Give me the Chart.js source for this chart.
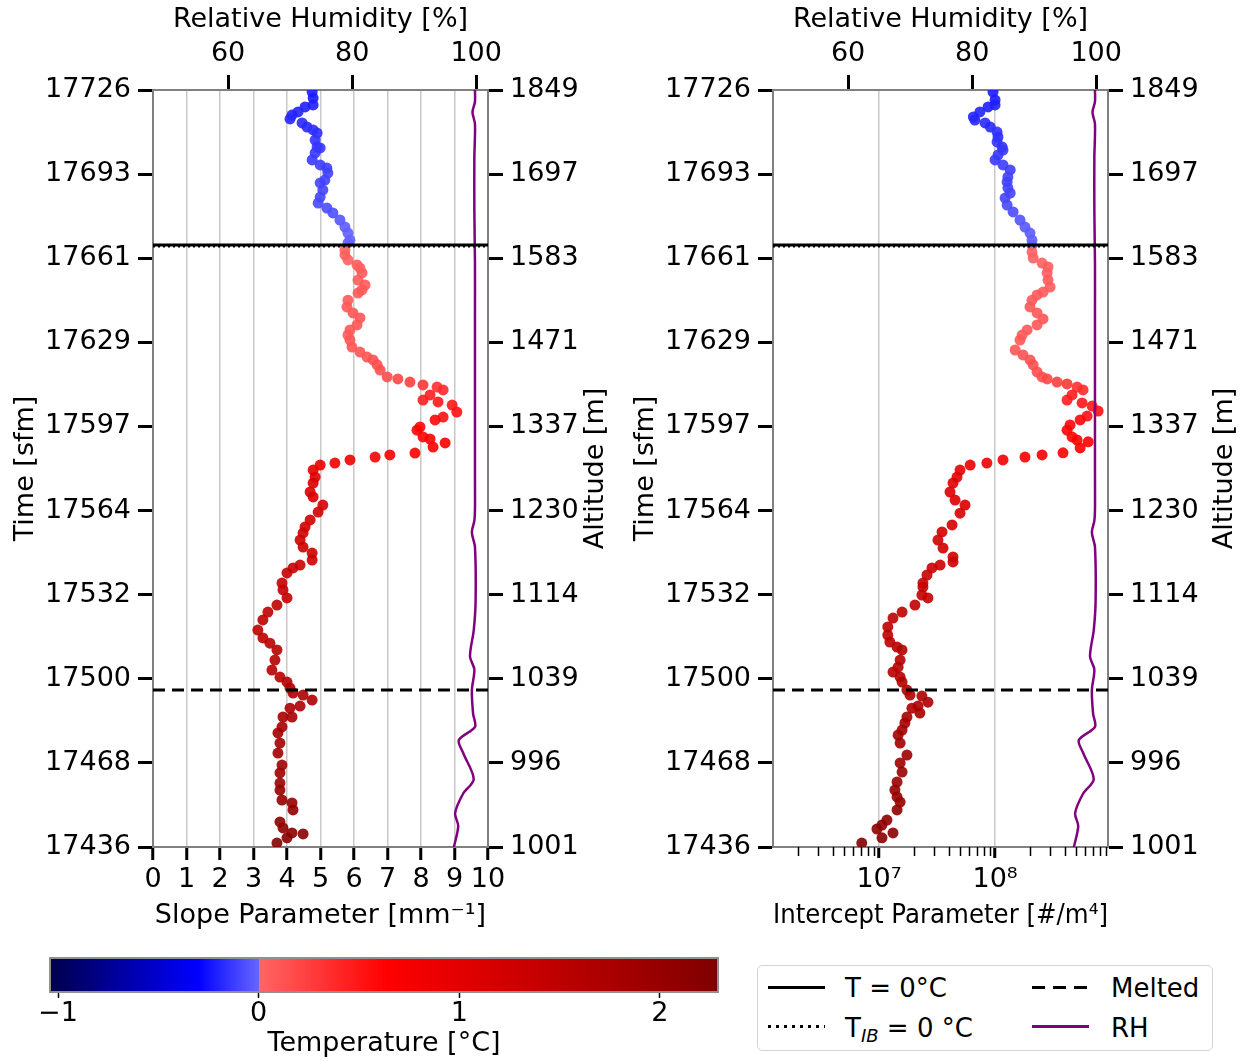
<!DOCTYPE html>
<html>
<head>
<meta charset="utf-8">
<script src="https://cdn.jsdelivr.net/npm/chart.js@4.4.1/dist/chart.umd.min.js"></script>
<style>
body { margin: 0; background: #fff; width: 1246px; height: 1061px; position: relative; overflow: hidden; font-family: "DejaVu Sans", sans-serif; }
canvas { position: absolute; }
#legend { position: absolute; left: 757px; top: 965px; width: 456px; height: 86px; border: 1.5px solid #d4d4d4; border-radius: 5px; box-sizing: border-box; }
.sw { position: absolute; width: 57px; height: 3px; }
.lt { position: absolute; font-size: 26px; line-height: 30px; color: #000; white-space: nowrap; }
.lt sub { font-size: 18px; font-style: italic; vertical-align: -5px; line-height: 0; }
</style>
</head>
<body>
<canvas id="slopeChart" width="620" height="940" style="left:0;top:0"></canvas>
<canvas id="n0Chart" width="626" height="940" style="left:620px;top:0"></canvas>
<canvas id="cbarChart" width="740" height="121" style="left:0;top:940px"></canvas>
<div id="legend">
  <div class="sw" style="left:10px;top:20px;background:#000"></div>
  <div class="lt" style="left:87px;top:7px">T = 0°C</div>
  <div class="sw" style="left:10px;top:59px;height:2.5px;background:repeating-linear-gradient(90deg,#000 0 3px,transparent 3px 8px)"></div>
  <div class="lt" style="left:87px;top:47px">T<sub>IB</sub> = 0 °C</div>
  <div class="sw" style="left:274px;top:20px;background:repeating-linear-gradient(90deg,#000 0 13px,transparent 13px 21px)"></div>
  <div class="lt" style="left:353px;top:7px">Melted</div>
  <div class="sw" style="left:274px;top:59px;background:#800080"></div>
  <div class="lt" style="left:353px;top:47px">RH</div>
</div>
<script>
// axes
var timeMin = 17436, timeMax = 17726;
var timeTickLabels = ['17436', '17468', '17500', '17532', '17564', '17597', '17629', '17661', '17693', '17726'];
var altTickLabels = ['1001', '996', '1039', '1114', '1230', '1337', '1471', '1583', '1697', '1849'];
var rhMin = 47.9, rhMax = 101.9;
var rhTicks = [60, 80, 100];
var slopeTicks = [0, 1, 2, 3, 4, 5, 6, 7, 8, 9, 10];
var n0Min = 1.22e6, n0Max = 9.4e8;
var n0Ticks = [1e7, 1e8];
var n0TickLabels = ['10⁷', '10⁸'];
var cbarMin = -1.04, cbarMax = 2.29;
var cbarTicks = [-1, 0, 1, 2];
var cbarTickLabels = ['−1', '0', '1', '2'];

// level lines
var tZero = 17666.6, tIB = 17666.0, tMelted = 17496.1;

// relative humidity profile
var rhTime = [17726, 17721.5, 17717.5, 17713, 17700, 17680, 17660, 17640, 17620, 17600, 17580, 17565, 17561, 17556.5, 17551, 17530, 17519, 17509, 17504, 17496, 17487, 17482, 17477, 17472, 17462, 17456.5, 17449, 17444, 17436];
var rhVal = [99.8, 99.8, 99.4, 99.8, 99.7, 99.7, 99.8, 99.8, 99.8, 99.8, 99.8, 99.8, 99.7, 99.3, 99.8, 99.9, 99.6, 99.0, 99.7, 99.3, 99.5, 99.8, 97.2, 97.9, 99.6, 97.9, 96.6, 97.1, 96.4];

// slope parameter
var slopeTime = [17725.2, 17722.9, 17720.3, 17719.5, 17717.6, 17716.4, 17714.9, 17713.4, 17711.8, 17710.7, 17709.5, 17706.8, 17704.2, 17703.8, 17701.9, 17699.2, 17697.3, 17696.1, 17694.2, 17691.5, 17690.4, 17687.7, 17685.0, 17682.7, 17680.8, 17678.9, 17676.2, 17673.5, 17671.2, 17668.5, 17667.4,
  17664.7, 17662.8, 17660.9, 17659.0, 17657.8, 17655.9, 17653.2, 17651.3, 17649.4, 17648.2, 17645.5, 17642.9, 17640.6, 17638.7, 17636.0, 17634.1, 17632.1,
  17630.2, 17627.5, 17625.6, 17623.7, 17622.6, 17620.7, 17618.7, 17616.1,
  17615.3, 17614.1, 17613.0, 17612.2, 17611.1,
  17609.2, 17607.2, 17606.5, 17605.3, 17602.6, 17600.7, 17599.6, 17596.9, 17595.7, 17593.1, 17592.3, 17589.2, 17590.8, 17586.9,
  17586.2, 17585.4, 17584.3, 17583.1, 17582.3,
  17580.4, 17577.7, 17575.4, 17572.0, 17570.1, 17567.0, 17564.3, 17561.3, 17558.6, 17556.3, 17553.6, 17550.9, 17548.6, 17545.9, 17544.0, 17542.9, 17541.0,
  17537.1, 17534.5, 17531.4, 17528.7, 17526.0, 17523.0, 17519.1, 17516.1, 17514.1, 17511.5, 17507.6, 17503.8, 17501.1,
  17499.2, 17496.9, 17495.0, 17494.2, 17492.3, 17490.0, 17489.2, 17485.8, 17485.8, 17482.0, 17479.7, 17475.8, 17472.0,
  17467.4, 17464.4, 17460.5, 17457.8, 17454.0, 17452.9, 17450.2, 17445.6, 17443.3, 17441.4, 17441.0, 17439.5, 17437.5];
var slopeVal = [4.75, 4.78, 4.78, 4.54, 4.33, 4.15, 4.09, 4.45, 4.60, 4.78, 4.90, 4.84, 4.90, 4.99, 4.84, 4.75, 4.99, 5.19, 5.22, 5.13, 4.99, 5.07, 4.99, 4.93, 5.19, 5.37, 5.58, 5.73, 5.82, 5.88, 5.82,
  5.73, 5.73, 5.82, 6.09, 6.18, 6.24, 6.12, 6.33, 6.24, 6.12, 5.82, 5.79, 5.97, 6.18, 6.09, 5.88, 5.82,
  5.88, 5.94, 6.18, 6.39, 6.57, 6.69, 6.78, 6.99,
  7.31, 7.67, 8.06, 8.48, 8.66,
  8.27, 8.06, 8.51, 8.93, 9.07, 8.66, 8.42, 7.97, 7.88, 8.06, 8.27, 8.36, 8.72, 7.82,
  7.07, 6.63, 5.88, 5.43, 4.99,
  4.78, 4.84, 4.78, 4.69, 4.78, 5.07, 4.93, 4.69, 4.54, 4.48, 4.39, 4.48, 4.75, 4.75, 4.39, 4.18, 4.00,
  3.85, 3.88, 4.00, 3.70, 3.43, 3.28, 3.13, 3.28, 3.49, 3.70, 3.64, 3.55, 3.79,
  4.00, 4.09, 4.18, 4.48, 4.75, 4.39, 4.09, 4.15, 3.88, 3.85, 3.73, 3.79, 3.73,
  3.85, 3.79, 3.79, 3.79, 3.85, 4.15, 4.18, 3.79, 3.88, 4.15, 4.48, 4.00, 3.70];
var slopeTemp = [-0.22, -0.22, -0.21, -0.21, -0.2, -0.2, -0.19,
  -0.18, -0.18, -0.16, -0.16, -0.15, -0.15, -0.14, -0.14, -0.13,
  -0.12, -0.12, -0.11, -0.11, -0.1, -0.1, -0.1, -0.09,
  -0.08, -0.07, -0.05, -0.03, -0.02, -0.01, -0.01,
  0.02, 0.03, 0.04, 0.06, 0.05, 0.07, 0.06, 0.08, 0.08, 0.08, 0.09, 0.09, 0.1, 0.1, 0.1, 0.08, 0.06,
  0.1, 0.11, 0.12, 0.12, 0.13, 0.14, 0.15, 0.16,
  0.2, 0.25, 0.3, 0.35, 0.38,
  0.45, 0.45, 0.5, 0.5, 0.55, 0.55, 0.6, 0.6, 0.62, 0.62, 0.65, 0.64, 0.66, 0.68,
  0.72, 0.75, 0.8, 0.85, 0.9,
  1.0, 1.05, 1.1, 1.1, 1.15, 1.15, 1.2, 1.2, 1.25, 1.25, 1.25, 1.3, 1.3, 1.3, 1.3, 1.35, 1.35,
  1.4, 1.4, 1.4, 1.45, 1.45, 1.5, 1.5, 1.5, 1.55, 1.55, 1.6, 1.6, 1.6,
  1.65, 1.65, 1.65, 1.7, 1.7, 1.7, 1.7, 1.75, 1.75, 1.8, 1.8, 1.85, 1.85,
  1.9, 1.9, 1.95, 2.0, 2.0, 2.0, 2.05, 2.1, 2.1, 2.1, 2.15, 2.15, 2.2];

// intercept parameter
var n0Time = [17725.2, 17722.2, 17720.3, 17719.5, 17717.6, 17715.7, 17714.5,
  17713.4, 17711.8, 17709.9, 17708.0, 17706.1, 17704.2, 17703.0, 17701.1, 17699.2,
  17697.3, 17695.4, 17692.7, 17690.8, 17688.5, 17686.5, 17684.6, 17681.9,
  17679.3, 17676.2, 17673.5, 17671.2, 17668.5, 17666.6,
  17663.9, 17661.6, 17659.7, 17658.2, 17655.9, 17653.2, 17650.5, 17648.6, 17647.5, 17645.5, 17642.9, 17640.6, 17638.3, 17636.0, 17634.1, 17632.1,
  17630.2, 17626.4, 17624.5, 17622.6, 17620.7, 17618.0, 17616.1,
  17615.3, 17614.1, 17613.4, 17612.2, 17611.1,
  17609.2, 17607.2, 17606.1, 17604.9, 17603.0, 17601.1, 17599.6, 17597.7, 17595.7, 17593.1, 17591.9, 17591.2, 17588.9, 17587.0,
  17586.2, 17585.4, 17584.3, 17583.1, 17582.3, 17580.4,
  17577.7, 17575.4, 17572.0, 17568.9, 17567.0, 17563.9, 17559.4, 17556.7, 17553.6, 17550.5, 17547.1, 17545.2, 17544.0, 17542.9, 17540.2, 17537.1,
  17535.6, 17532.5, 17531.4, 17528.7, 17526.0, 17523.7, 17520.3, 17517.2, 17514.5, 17512.6, 17511.5, 17507.6, 17504.9, 17503.0, 17501.1, 17499.2,
  17496.1, 17494.2, 17493.8, 17491.5, 17490.0, 17489.2, 17487.3, 17485.8, 17483.5, 17480.8, 17478.9, 17475.8, 17471.2,
  17468.2, 17464.7, 17460.9, 17457.8, 17455.2, 17453.2, 17450.2, 17446.3, 17444.4, 17442.9, 17441.4, 17439.5, 17437.5];
var n0Val = [9.6e7, 1.0e8, 1.0e8, 8.7e7, 7.4e7, 6.5e7, 6.7e7,
  8.2e7, 9.1e7, 1.04e8, 1.06e8, 1.04e8, 1.15e8, 1.17e8, 1.06e8, 1.0e8,
  1.17e8, 1.35e8, 1.29e8, 1.27e8, 1.29e8, 1.35e8, 1.22e8, 1.27e8,
  1.43e8, 1.64e8, 1.81e8, 2.0e8, 2.08e8, 2.08e8,
  2.08e8, 2.13e8, 2.54e8, 2.86e8, 2.81e8, 2.86e8, 2.98e8, 2.59e8, 2.30e8, 2.08e8, 2.0e8, 2.30e8, 2.59e8, 2.30e8, 1.89e8, 1.71e8,
  1.64e8, 1.49e8, 1.74e8, 2.0e8, 2.13e8, 2.30e8, 2.54e8,
  2.81e8, 3.42e8, 4.17e8, 5.09e8, 5.73e8,
  4.61e8, 4.17e8, 5.62e8, 6.86e8, 7.73e8, 6.21e8, 5.41e8, 4.43e8, 4.17e8, 4.61e8, 5.09e8, 6.34e8, 5.41e8, 3.85e8,
  2.54e8, 1.81e8, 1.17e8, 8.5e7, 6.1e7, 4.99e7,
  4.7e7, 4.34e7, 4.09e7, 4.52e7, 5.51e7, 4.99e7, 4.26e7, 3.49e7, 3.22e7, 3.56e7, 4.34e7, 4.34e7, 3.36e7, 2.86e7, 2.59e7, 2.39e7,
  2.39e7, 2.34e7, 2.64e7, 2.04e7, 1.58e7, 1.32e7, 1.19e7, 1.19e7, 1.24e7, 1.43e7, 1.58e7, 1.52e7, 1.46e7, 1.32e7, 1.52e7, 1.58e7,
  1.74e7, 1.85e7, 2.34e7, 2.64e7, 2.17e7, 1.92e7, 2.25e7, 1.74e7, 1.67e7, 1.58e7, 1.46e7, 1.52e7, 1.74e7,
  1.52e7, 1.58e7, 1.43e7, 1.37e7, 1.43e7, 1.52e7, 1.43e7, 1.17e7, 1.06e7, 9.6e6, 1.32e7, 1.06e7, 7.1e6];
var n0Temp = [-0.22, -0.22, -0.21, -0.21, -0.2, -0.2, -0.19,
  -0.18, -0.18, -0.16, -0.16, -0.15, -0.15, -0.14, -0.14, -0.13,
  -0.12, -0.12, -0.11, -0.11, -0.1, -0.1, -0.1, -0.09,
  -0.08, -0.06, -0.04, -0.03, -0.02, -0.01,
  0.02, 0.03, 0.04, 0.06, 0.05, 0.07, 0.06, 0.08, 0.08, 0.08, 0.09, 0.09, 0.1, 0.1, 0.08, 0.06,
  0.1, 0.11, 0.12, 0.13, 0.14, 0.15, 0.16,
  0.2, 0.25, 0.3, 0.35, 0.38,
  0.45, 0.45, 0.5, 0.5, 0.55, 0.55, 0.6, 0.6, 0.62, 0.62, 0.65, 0.64, 0.66, 0.68,
  0.72, 0.75, 0.8, 0.85, 0.9, 0.95,
  1.0, 1.05, 1.1, 1.1, 1.15, 1.15, 1.2, 1.2, 1.25, 1.25, 1.25, 1.3, 1.3, 1.3, 1.35, 1.35,
  1.4, 1.4, 1.4, 1.45, 1.45, 1.5, 1.5, 1.5, 1.55, 1.55, 1.6, 1.6, 1.6, 1.6, 1.65, 1.65,
  1.65, 1.65, 1.7, 1.7, 1.7, 1.7, 1.75, 1.75, 1.8, 1.8, 1.85, 1.85, 1.9,
  1.9, 1.95, 1.95, 2.0, 2.0, 2.0, 2.05, 2.1, 2.1, 2.1, 2.15, 2.15, 2.2];

var font = { family: 'DejaVu Sans', size: 27 };
var spine = '#808080';

// blue half ends light blue at 0, red half starts light red at 0
function tempColor(v, a) {
    var r, g, b, f, k;
    if (v < 0) {
        f = Math.max(0, (v - cbarMin) / (0 - cbarMin));
        if (f < 0.71) { k = f / 0.71; r = 0; g = 0; b = 0.3 + 0.7 * k; }
        else { k = (f - 0.71) / 0.29; r = 0.4 * k; g = 0.4 * k; b = 1; }
    } else {
        f = Math.min(1, v / cbarMax);
        if (f < 0.28) { k = f / 0.28; r = 1; g = 0.4 * (1 - k); b = g; }
        else { k = (f - 0.28) / 0.72; r = 1 - 0.5 * k; g = 0; b = 0; }
    }
    return 'rgba(' + Math.round(r * 255) + ',' + Math.round(g * 255) + ',' + Math.round(b * 255) + ',' + a + ')';
}

function timeTickValues() {
    var out = [];
    for (var i = 0; i < timeTickLabels.length; i++) out.push({ value: timeMin + i * (timeMax - timeMin) / (timeTickLabels.length - 1) });
    return out;
}

var minorLogTicks = {
    id: 'minorLogTicks',
    afterDraw: function (chart) {
        var s = chart.scales.x;
        if (s.type !== 'logarithmic') return;
        var ctx = chart.ctx;
        ctx.save();
        ctx.strokeStyle = '#000';
        ctx.lineWidth = 1.5;
        for (var e = 6; e <= 8; e++) {
            for (var k = 2; k <= 9; k++) {
                var v = k * Math.pow(10, e);
                if (v < s.min || v > s.max) continue;
                var px = Math.round(s.getPixelForValue(v)) + 0.5;
                ctx.beginPath();
                ctx.moveTo(px, s.top);
                ctx.lineTo(px, s.top + 9);
                ctx.stroke();
            }
        }
        ctx.restore();
    }
};

// right-hand title, reading bottom to top like the left one
var altTitle = {
    id: 'altTitle',
    afterDraw: function (chart, args, opts) {
        var s = chart.scales.y2, ctx = chart.ctx;
        ctx.save();
        ctx.translate(s.right - opts.offset, (s.top + s.bottom) / 2);
        ctx.rotate(-Math.PI / 2);
        ctx.font = font.size + 'px "' + font.family + '"';
        ctx.fillStyle = '#000';
        ctx.textAlign = 'center';
        ctx.textBaseline = 'middle';
        ctx.fillText('Altitude [m]', 0, 0);
        ctx.restore();
    }
};

function makePanel(id, canvasWidth, xScale, times, values, temps, xLo, xHi, altOffset) {
    var pts = [];
    for (var i = 0; i < times.length; i++) pts.push({ x: values[i], y: times[i] });
    var rh = [];
    for (var j = 0; j < rhTime.length; j++) rh.push({ x: rhVal[j], y: rhTime[j] });

    return new Chart(document.getElementById(id), {
        type: 'scatter',
        data: {
            datasets: [
                { label: 'T = 0°C', data: [{ x: xLo, y: tZero }, { x: xHi, y: tZero }], showLine: true, borderColor: '#000', borderWidth: 3, pointRadius: 0 },
                { label: 'Melted', data: [{ x: xLo, y: tMelted }, { x: xHi, y: tMelted }], showLine: true, borderColor: '#000', borderWidth: 3, borderDash: [12, 7], pointRadius: 0 },
                { label: 'T_IB = 0 °C', data: [{ x: xLo, y: tIB }, { x: xHi, y: tIB }], showLine: true, borderColor: '#000', borderWidth: 2, borderDash: [2, 3], pointRadius: 0 },
                { label: 'RH', data: rh, xAxisID: 'x2', showLine: true, borderColor: '#800080', borderWidth: 2.5, tension: 0.3, pointRadius: 0 },
                { label: 'points', data: pts, pointRadius: 5.5, pointBorderWidth: 0, pointBackgroundColor: temps.map(function (t) { return tempColor(t, 0.9); }) }
            ]
        },
        options: {
            responsive: false,
            animation: false,
            events: [],
            plugins: { legend: { display: false }, tooltip: { enabled: false }, altTitle: { offset: altOffset } },
            scales: {
                x: xScale,
                x2: {
                    type: 'linear', position: 'top', min: rhMin, max: rhMax,
                    afterBuildTicks: function (s) { s.ticks = rhTicks.map(function (v) { return { value: v }; }); },
                    afterFit: function (s) { s.height = 90; },
                    grid: { drawOnChartArea: false, tickLength: 15, tickWidth: 3, tickColor: '#000' },
                    border: { color: spine, width: 2 },
                    ticks: { font: font, color: '#000', padding: 5, maxRotation: 0, autoSkip: false },
                    title: { display: true, text: 'Relative Humidity [%]', font: font, color: '#000', padding: { top: 4 } }
                },
                y: {
                    type: 'linear', position: 'left', min: timeMin, max: timeMax,
                    afterBuildTicks: function (s) { s.ticks = timeTickValues(); },
                    afterFit: function (s) { s.width = 153; },
                    grid: { drawOnChartArea: false, tickLength: 15, tickWidth: 3, tickColor: '#000' },
                    border: { color: spine, width: 2 },
                    ticks: { font: font, color: '#000', padding: 7, autoSkip: false, callback: function (v, i) { return timeTickLabels[i]; } },
                    title: { display: true, text: 'Time [sfm]', font: font, color: '#000', padding: { top: 10 } }
                },
                y2: {
                    type: 'linear', position: 'right', min: timeMin, max: timeMax,
                    afterBuildTicks: function (s) { s.ticks = timeTickValues(); },
                    afterFit: function (s) { s.width = canvasWidth - 488; },
                    grid: { drawOnChartArea: false, tickLength: 15, tickWidth: 3, tickColor: '#000' },
                    border: { color: spine, width: 2 },
                    ticks: { font: font, color: '#000', padding: 7, autoSkip: false, callback: function (v, i) { return altTickLabels[i]; } },
                    title: { display: false }
                }
            }
        },
        plugins: [minorLogTicks, altTitle]
    });
}

var slopeChart = makePanel('slopeChart', 620, {
    type: 'linear', position: 'bottom', min: 0, max: 10,
    afterBuildTicks: function (s) { s.ticks = slopeTicks.map(function (v) { return { value: v }; }); },
    afterFit: function (s) { s.height = 93; },
    grid: { color: '#c8c8c8', lineWidth: 1.5, tickLength: 13, tickWidth: 3, tickColor: '#000' },
    border: { color: spine, width: 2 },
    ticks: { font: font, color: '#000', padding: 4, maxRotation: 0, autoSkip: false },
    title: { display: true, text: 'Slope Parameter [mm⁻¹]', font: font, color: '#000', padding: { bottom: 8 } }
}, slopeTime, slopeVal, slopeTemp, 0, 10, 24);

var n0Chart = makePanel('n0Chart', 626, {
    type: 'logarithmic', position: 'bottom', min: n0Min, max: n0Max,
    afterBuildTicks: function (s) { s.ticks = n0Ticks.map(function (v) { return { value: v }; }); },
    afterFit: function (s) { s.height = 93; },
    grid: { color: '#c8c8c8', lineWidth: 1.5, tickLength: 11, tickWidth: 3, tickColor: '#000' },
    border: { color: spine, width: 2 },
    ticks: { font: font, color: '#000', padding: 6, maxRotation: 0, autoSkip: false, callback: function (v, i) { return n0TickLabels[i]; } },
    title: { display: true, text: 'Intercept Parameter [#/m⁴]', font: font, color: '#000', padding: { bottom: 8 } }
}, n0Time, n0Val, n0Temp, n0Min, n0Max, 21);

// colour bar, filled column by column through its own scale
var cbarFill = {
    id: 'cbarFill',
    beforeDatasetsDraw: function (chart) {
        var s = chart.scales.x, a = chart.chartArea, ctx = chart.ctx;
        ctx.save();
        for (var px = Math.floor(a.left); px < a.right; px++) {
            ctx.fillStyle = tempColor(s.getValueForPixel(px + 0.5), 1);
            ctx.fillRect(px, a.top, 1, a.bottom - a.top);
        }
        ctx.strokeStyle = '#909090';
        ctx.lineWidth = 2;
        ctx.strokeRect(a.left, a.top, a.right - a.left, a.bottom - a.top);
        ctx.restore();
    }
};

var cbarChart = new Chart(document.getElementById('cbarChart'), {
    type: 'scatter',
    data: { datasets: [{ data: [] }] },
    options: {
        responsive: false,
        animation: false,
        events: [],
        layout: { padding: { left: 50, right: 22, top: 18 } },
        plugins: { legend: { display: false }, tooltip: { enabled: false } },
        scales: {
            x: {
                type: 'linear', position: 'bottom', min: cbarMin, max: cbarMax,
                afterBuildTicks: function (s) { s.ticks = cbarTicks.map(function (v) { return { value: v }; }); },
                afterFit: function (s) { s.height = 69; },
                grid: { drawOnChartArea: false, tickLength: 6, tickWidth: 1.5, tickColor: '#000' },
                border: { display: false },
                ticks: { font: font, color: '#000', padding: 0, maxRotation: 0, autoSkip: false, callback: function (v, i) { return cbarTickLabels[i]; } },
                title: { display: true, text: 'Temperature [°C]', font: font, color: '#000', padding: { bottom: 1 } }
            },
            y: { display: false, min: 0, max: 1 }
        }
    },
    plugins: [cbarFill]
});
</script>
</body>
</html>
